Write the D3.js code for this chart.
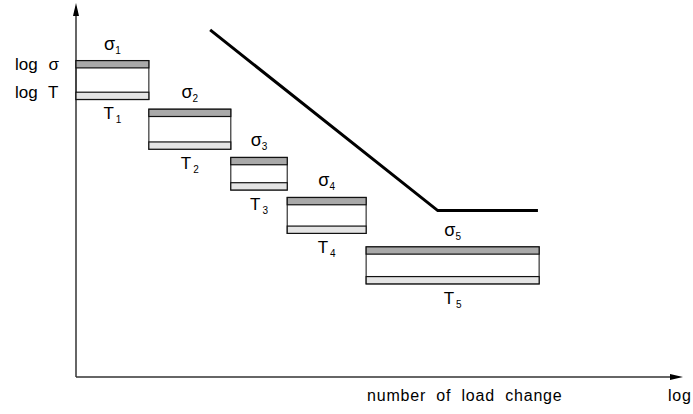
<!DOCTYPE html>
<html>
<head>
<meta charset="utf-8">
<script src="https://cdn.jsdelivr.net/npm/d3@7"></script>
<style>
  body { margin: 0; background: #fff; }
  text { font-family: "Liberation Sans", Arial, sans-serif; fill: #000; }
</style>
</head>
<body>
<svg id="chart"></svg>
<script>
// step boundaries on the log(number of load change) axis
const stepStart = [0, 12.0, 25.5, 34.8, 47.8];
const stepEnd = [12.0, 25.5, 34.8, 47.8, 76.3];
// log sigma (top of stress band) and log T (bottom of T band) per step
const logSigma = [84.6, 71.6, 58.7, 48.0, 34.8];
const logT = [74.2, 60.9, 50.0, 38.4, 24.9];
const stepNames = ['1', '2', '3', '4', '5'];
// S-N type line
const lineX = [22.1, 59.6, 76.1];
const lineY = [92.8, 44.5, 44.5];
const band = 1.95;

const width = 693, height = 414;
const svg = d3.select('#chart').attr('width', width).attr('height', height);

const x = d3.scaleLinear().domain([0, 100]).range([76, 683]);
const y = d3.scaleLinear().domain([0, 100]).range([377, 3]);

const steps = stepStart.map((s, i) => ({
    x0: s, x1: stepEnd[i], sig: logSigma[i], t: logT[i], name: stepNames[i]
}));

// axes
svg.append('line').attr('x1', x(0)).attr('x2', x(0)).attr('y1', y(0)).attr('y2', y(97))
    .attr('stroke', '#333').attr('stroke-width', 1.5);
svg.append('path').attr('d', `M${x(0)},${y(100)} L${x(0) - 3},${y(100) + 13} L${x(0) + 3},${y(100) + 13} Z`)
    .attr('fill', '#000');
svg.append('line').attr('x1', x(0)).attr('x2', x(98)).attr('y1', y(0)).attr('y2', y(0))
    .attr('stroke', '#333').attr('stroke-width', 1.5);
svg.append('path').attr('d', `M${x(100)},${y(0)} L${x(100) - 13},${y(0) - 3} L${x(100) - 13},${y(0) + 3} Z`)
    .attr('fill', '#000');

const g = svg.append('g');
const step = g.selectAll('g.step').data(steps).enter().append('g').attr('class', 'step');

// outer box
step.append('rect')
    .attr('x', d => x(d.x0)).attr('y', d => y(d.sig))
    .attr('width', d => x(d.x1) - x(d.x0)).attr('height', d => y(d.t) - y(d.sig))
    .attr('fill', 'none').attr('stroke', '#333').attr('stroke-width', 1.2);
// sigma band
step.append('rect')
    .attr('x', d => x(d.x0)).attr('y', d => y(d.sig))
    .attr('width', d => x(d.x1) - x(d.x0)).attr('height', d => y(d.sig - band) - y(d.sig))
    .attr('fill', '#a9a9a9').attr('stroke', '#111').attr('stroke-width', 1.2);
// T band
step.append('rect')
    .attr('x', d => x(d.x0)).attr('y', d => y(d.t + band))
    .attr('width', d => x(d.x1) - x(d.x0)).attr('height', d => y(d.t) - y(d.t + band))
    .attr('fill', '#e4e4e4').attr('stroke', '#111').attr('stroke-width', 1.2);

// labels
const sl = step.append('text')
    .attr('x', d => (x(d.x0) + x(d.x1)) / 2).attr('y', d => y(d.sig) - 11)
    .attr('text-anchor', 'middle').attr('font-size', 18);
sl.append('tspan').text('σ');
sl.append('tspan').attr('font-size', 10).attr('dy', 4).text(d => d.name);

const tl = step.append('text')
    .attr('x', d => (x(d.x0) + x(d.x1)) / 2).attr('y', d => y(d.t) + 20)
    .attr('text-anchor', 'middle').attr('font-size', 17);
tl.append('tspan').text('T');
tl.append('tspan').attr('font-size', 10).attr('dy', 4).attr('dx', 2).text(d => d.name);

// stress line
const linePts = lineX.map((v, i) => [x(v), y(lineY[i])]);
svg.append('path').attr('d', d3.line()(linePts))
    .attr('fill', 'none').attr('stroke', '#000').attr('stroke-width', 3);

// axis labels
svg.append('text').attr('x', 15).attr('y', y(logSigma[0] - band) + 2).attr('font-size', 17)
    .attr('word-spacing', 6).text('log σ');
svg.append('text').attr('x', 15).attr('y', y(logT[0]) - 1).attr('font-size', 17)
    .attr('word-spacing', 6).text('log T');
svg.append('text').attr('x', 367).attr('y', 401).attr('font-size', 16)
    .attr('letter-spacing', 0.8).attr('word-spacing', 5).text('number of load change');
svg.append('text').attr('x', 668).attr('y', 401).attr('font-size', 16)
    .attr('letter-spacing', 0.8).text('log');
</script>
</body>
</html>
